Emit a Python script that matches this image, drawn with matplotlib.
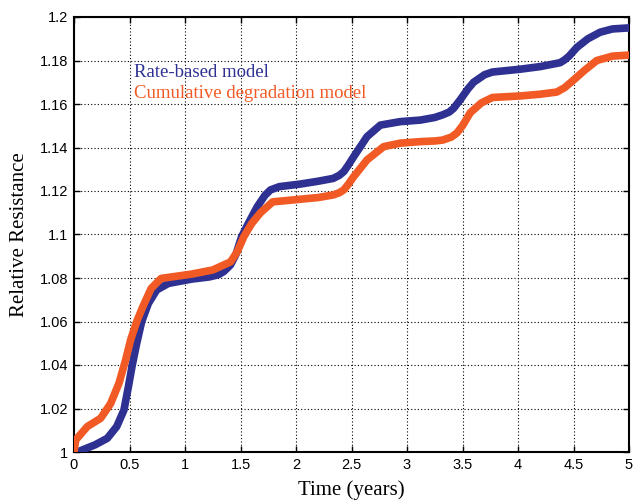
import matplotlib
matplotlib.use("Agg")
import matplotlib.pyplot as plt
from matplotlib.ticker import FuncFormatter

# values
rate_t = [0.0, 0.03, 0.19, 0.30, 0.385, 0.45, 0.49, 0.525, 0.565, 0.61, 0.67,
          0.745, 0.85, 1.06, 1.22, 1.30, 1.35, 1.41, 1.46, 1.51, 1.58, 1.65,
          1.72, 1.77, 1.85, 2.04, 2.2, 2.336, 2.39, 2.43, 2.47, 2.52, 2.64,
          2.76, 2.94, 3.12, 3.25, 3.32, 3.38, 3.42, 3.48, 3.55, 3.6, 3.7,
          3.77, 4.02, 4.2, 4.30, 4.38, 4.42, 4.46, 4.53, 4.63, 4.74, 4.85, 5.0]
rate_r = [1.0, 1.0, 1.0033, 1.0063, 1.0117, 1.0193, 1.030, 1.040, 1.050, 1.060,
          1.0683, 1.0745, 1.0775, 1.0795, 1.0805, 1.0815, 1.083, 1.086, 1.091,
          1.099, 1.106, 1.1127, 1.118, 1.1205, 1.122, 1.1232, 1.1245, 1.1258,
          1.1272, 1.1289, 1.1318, 1.1358, 1.145, 1.1503, 1.1519, 1.1526,
          1.1538, 1.155, 1.1563, 1.158, 1.162, 1.167, 1.170, 1.1735, 1.1747,
          1.176, 1.1772, 1.1782, 1.179, 1.1803, 1.182, 1.186, 1.190, 1.193,
          1.1945, 1.195]

cum_t = [0.0, 0.015, 0.12, 0.24, 0.33, 0.405, 0.465, 0.51, 0.565, 0.62, 0.695,
         0.785, 1.06, 1.25, 1.41, 1.47, 1.53, 1.6, 1.68, 1.79, 2.036, 2.2,
         2.336, 2.39, 2.43, 2.47, 2.52, 2.64, 2.79, 2.94, 3.12, 3.25, 3.32,
         3.40, 3.45, 3.50, 3.57, 3.67, 3.77, 4.02, 4.2, 4.35, 4.42, 4.50,
         4.60, 4.71, 4.85, 5.0]
cum_r = [1.0, 1.0055, 1.0117, 1.0155, 1.0223, 1.0316, 1.0423, 1.0515, 1.060,
         1.0668, 1.0752, 1.0798, 1.0818, 1.0837, 1.0874, 1.092, 1.099, 1.105,
         1.110, 1.115, 1.1162, 1.117, 1.1182, 1.1192, 1.1205, 1.1230, 1.1266,
         1.1343, 1.1404, 1.142, 1.1427, 1.1430, 1.1434, 1.1448, 1.1467, 1.150,
         1.156, 1.1605, 1.163, 1.1637, 1.1645, 1.1655, 1.1675, 1.171, 1.1755,
         1.180, 1.182, 1.1825]

x_ticks = [0, 0.5, 1, 1.5, 2, 2.5, 3, 3.5, 4, 4.5, 5]
y_ticks = [1.0, 1.02, 1.04, 1.06, 1.08, 1.1, 1.12, 1.14, 1.16, 1.18, 1.2]

BLUE = "#2e3192"
ORANGE = "#f15a24"
SERIF = "Liberation Serif"
SANS = "Liberation Sans"

fig = plt.figure(figsize=(6.33, 5.01), dpi=100)
ax = fig.add_axes([74 / 633, 49 / 501, 555 / 633, 435 / 501])

ax.plot(rate_t, rate_r, color=BLUE, lw=5.5, solid_capstyle="round",
        solid_joinstyle="round", zorder=3)
ax.plot(cum_t, cum_r, color=ORANGE, lw=5.5, solid_capstyle="round",
        solid_joinstyle="round", zorder=3)

ax.set_xlim(0, 5)
ax.set_ylim(1.0, 1.2)
ax.set_xticks(x_ticks)
ax.set_yticks(y_ticks)
ax.xaxis.set_major_formatter(FuncFormatter(lambda v, p: f"{v:g}"))
ax.yaxis.set_major_formatter(FuncFormatter(lambda v, p: f"{v:g}"))
ax.tick_params(direction="in", top=True, right=True, length=4, width=1,
               labelsize=10.5, pad=4)
for lab in ax.get_xticklabels() + ax.get_yticklabels():
    lab.set_family(SANS)

ax.grid(True, color="black", linestyle=(0, (1, 2)), linewidth=0.8)
for s in ax.spines.values():
    s.set_linewidth(1.5)

ax.set_xlabel("Time (years)", family=SERIF, fontsize=15, labelpad=6)
ax.set_ylabel("Relative Resistance", family=SERIF, fontsize=15, labelpad=8)

ax.text(0.54, 1.1747, "Rate-based model", color=BLUE, family=SERIF,
        fontsize=13.5, va="center", ha="left")
ax.text(0.54, 1.165, "Cumulative degradation model", color=ORANGE,
        family=SERIF, fontsize=13.5, va="center", ha="left")

fig.savefig("out.png", dpi=100)
